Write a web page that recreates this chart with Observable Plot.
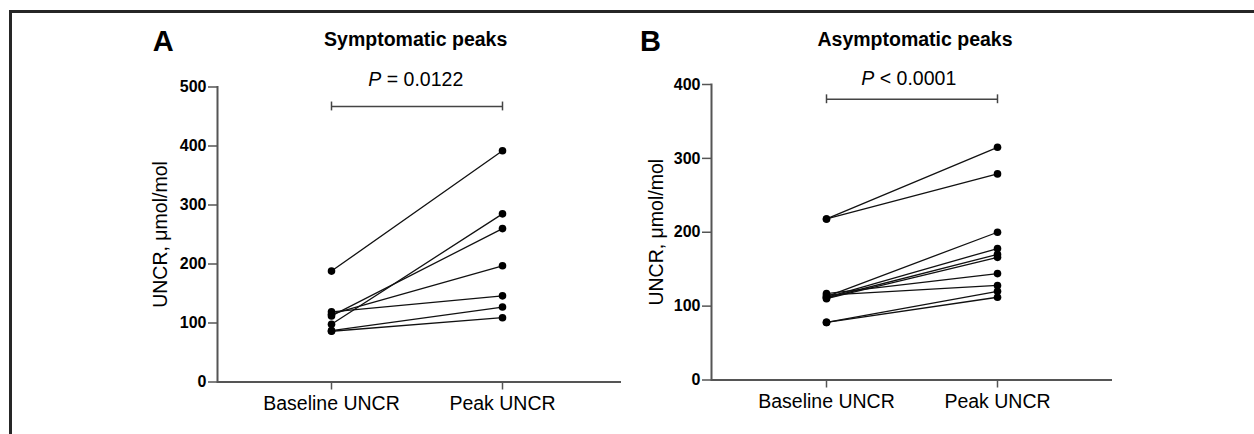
<!DOCTYPE html>
<html><head><meta charset="utf-8">
<script src="https://cdn.jsdelivr.net/npm/d3@7"></script>
<script src="https://cdn.jsdelivr.net/npm/@observablehq/plot@0.6"></script>
<style>
html,body{margin:0;padding:0;background:#fff;}
#wrap{position:relative;width:1254px;height:434px;overflow:hidden;font-family:"Liberation Sans",Arial,sans-serif;background:#fff;}
#border{position:absolute;left:9px;top:10px;right:0;bottom:0;border-top:3px solid #262626;border-left:3px solid #262626;}
.panel{position:absolute;top:0;}
#titles{position:absolute;left:0;top:0;font-family:"Liberation Sans",Arial,sans-serif;}
</style></head><body>
<div id="wrap">
  <div id="border"></div>
  <div id="panelA" class="panel" style="left:0px"></div>
  <div id="panelB" class="panel" style="left:627px"></div>
  <svg id="titles" width="1254" height="434">
    <text x="152.7" y="50.7" font-size="29" font-weight="bold">A</text>
    <text x="415.7" y="45.5" text-anchor="middle" font-size="19.5" font-weight="bold">Symptomatic peaks</text>
    <text x="415.8" y="86" text-anchor="middle" font-size="19.5"><tspan font-style="italic">P</tspan> = 0.0122</text>
    <text x="640" y="50.5" font-size="29" font-weight="bold">B</text>
    <text x="915" y="45.5" text-anchor="middle" font-size="19.5" font-weight="bold">Asymptomatic peaks</text>
    <text x="908.8" y="85" text-anchor="middle" font-size="19.5"><tspan font-style="italic">P</tspan> &lt; 0.0001</text>
  </svg>
</div>
<script>
const categories = ["Baseline UNCR", "Peak UNCR"];
const symBaseline = [188, 119, 115, 112, 98, 87, 86];
const symPeak     = [392, 146, 197, 260, 285, 127, 109];
const asymBaseline = [218, 218, 113, 112, 111, 110, 117, 115, 78, 78];
const asymPeak     = [315, 279, 200, 178, 170, 166, 144, 128, 120, 112];
const symTicks = [0, 100, 200, 300, 400, 500];
const asymTicks = [0, 100, 200, 300, 400];
const yTitle = "UNCR, \u03bcmol/mol";
const symBracket = [{y: 467, x1: categories[0], x2: categories[1], lo: 459.5, hi: 474.5}];
const asymBracket = [{y: 380, x1: categories[0], x2: categories[1], lo: 374, hi: 386}];

function rows(base, peak) {
  return base.flatMap((b, i) => [
    {id: i, cat: categories[0], v: b},
    {id: i, cat: categories[1], v: peak[i]}
  ]);
}

function panel({data, ticks, bracket, marginLeft, marginRight, marginTop, marginBottom, padding, align, titleDx}) {
  return Plot.plot({
    width: 627, height: 434, marginLeft, marginRight, marginTop, marginBottom,
    style: {fontFamily: '"Liberation Sans", Arial, sans-serif', color: "#000", background: "transparent", overflow: "visible"},
    x: {type: "point", domain: categories, padding, align, label: null},
    y: {domain: [0, ticks[ticks.length - 1]], label: null},
    marks: [
      Plot.frame({anchor: "left", stroke: "#555", strokeWidth: 2}),
      Plot.ruleY([0], {stroke: "#555", strokeWidth: 2}),
      Plot.axisY({ticks, tickSize: 9, tickPadding: 2, fontSize: 16, fontWeight: "bold", stroke: "#555", strokeWidth: 1.5, label: null}),
      Plot.axisX({tickSize: 8, tickPadding: 6, fontSize: 19.5, stroke: "#555", strokeWidth: 1.5, label: null}),
      Plot.text([yTitle], {text: d => d, frameAnchor: "left", textAnchor: "middle", rotate: -90, dx: titleDx, fontSize: 19.5, fill: "#000"}),
      Plot.line(data, {x: "cat", y: "v", z: "id", stroke: "#111", strokeWidth: 1.3}),
      Plot.dot(data, {x: "cat", y: "v", r: 3.8, fill: "#000"}),
      Plot.ruleY(bracket, {y: "y", x1: "x1", x2: "x2", stroke: "#444", strokeWidth: 1.5}),
      Plot.ruleX(categories, {x: d => d, y1: () => bracket[0].lo, y2: () => bracket[0].hi, stroke: "#444", strokeWidth: 1.5})
    ]
  });
}

document.getElementById("panelA").append(panel({
  data: rows(symBaseline, symPeak), ticks: symTicks, bracket: symBracket,
  marginLeft: 217, marginRight: 6, marginTop: 86.5, marginBottom: 52.5,
  padding: 0.68, align: 0.49, titleDx: -56.5
}));
document.getElementById("panelB").append(panel({
  data: rows(asymBaseline, asymPeak), ticks: asymTicks, bracket: asymBracket,
  marginLeft: 84, marginRight: 142, marginTop: 84, marginBottom: 54.5,
  padding: 0.666, align: 0.5, titleDx: -55
}));
</script>
</body></html>
